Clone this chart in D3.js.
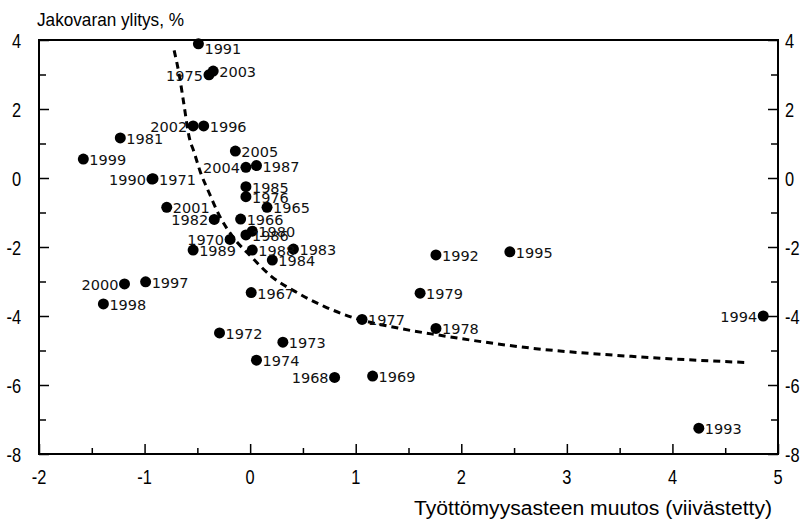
<!DOCTYPE html>
<html>
<head>
<meta charset="utf-8">
<script src="https://cdn.jsdelivr.net/npm/d3@7"></script>
<style>
  body { margin: 0; background: #fff; }
  svg { display: block; }
  .num { font-family: "Liberation Sans", Arial, sans-serif; font-size: 21px; fill: #000; }
  .ttl { font-family: "Liberation Sans", Arial, sans-serif; fill: #000; }
  .lbl { font-family: "DejaVu Sans", sans-serif; font-size: 14.5px; fill: #111; }
</style>
</head>
<body>
<div id="chart"></div>
<script>
// vuosi, työttömyysasteen muutos (viivästetty), jakovaran ylitys %
var years = [1991, 1975, 2003, 2002, 1996, 1981, 1999, 1990, 1971, 2005, 2004, 1987,
             1985, 1976, 1965, 2001, 1982, 1966, 1980, 1986, 1970, 1989, 1988, 1983,
             1984, 1997, 2000, 1998, 1967, 1972, 1973, 1974, 1968, 1969, 1977, 1992,
             1995, 1979, 1978, 1994, 1993];
var unempChange = [-0.49, -0.39, -0.35, -0.54, -0.44, -1.23, -1.58, -0.93, -0.92, -0.14, -0.04, 0.06,
                   -0.04, -0.04, 0.16, -0.79, -0.34, -0.09, 0.02, -0.04, -0.19, -0.54, 0.02, 0.41,
                   0.21, -0.99, -1.19, -1.39, 0.01, -0.29, 0.31, 0.06, 0.80, 1.16, 1.06, 1.76,
                   2.46, 1.61, 1.76, 4.86, 4.25];
var overshoot = [3.89, 2.99, 3.10, 1.51, 1.51, 1.16, 0.55, -0.03, -0.02, 0.78, 0.31, 0.36,
                 -0.25, -0.54, -0.85, -0.85, -1.20, -1.19, -1.54, -1.65, -1.78, -2.09, -2.09, -2.06,
                 -2.38, -3.01, -3.07, -3.65, -3.32, -4.49, -4.76, -5.28, -5.78, -5.74, -4.10, -2.23,
                 -2.14, -3.34, -4.36, -4.00, -7.25];
// vuodet, joiden nimi on pisteen vasemmalla puolella
var leftLabels = [1975, 2002, 1990, 2004, 1982, 1970, 2000, 1968, 1994];

// katkoviivakäyrä luettuna kuvasta
var curveX = [-0.72, -0.67, -0.63, -0.58, -0.53, -0.47, -0.39, -0.29, -0.17, 0.01,
              0.20, 0.42, 0.70, 0.99, 1.40, 1.78, 2.66, 3.61, 4.71];
var curveY = [3.70, 2.96, 2.19, 1.22, 0.74, 0.16, -0.42, -1.10, -1.68, -2.28,
              -2.85, -3.28, -3.72, -4.06, -4.35, -4.55, -4.93, -5.17, -5.35];

var xTicks = [-2, -1, 0, 1, 2, 3, 4, 5];
var yTicks = [4, 2, 0, -2, -4, -6, -8];
var yTitle = "Jakovaran ylitys, %";
var xTitle = "Työttömyysasteen muutos (viivästetty)";

var W = 811, H = 519;
var mLeft = 39, mRight = 778, mTop = 40, mBottom = 454;

var svg = d3.select("#chart").append("svg").attr("width", W).attr("height", H);

var x = d3.scaleLinear().domain([-2, 5]).range([mLeft, mRight]);
var y = d3.scaleLinear().domain([-8, 4]).range([mBottom, mTop]);

// akselit, tikit sisäänpäin
var gx = svg.append("g").attr("transform", "translate(0," + mBottom + ")");
gx.call(d3.axisTop(x).tickValues(d3.range(-2, 5.01, 0.5)).tickFormat(""));
gx.selectAll(".tick line").attr("y2", function(d){ return Number.isInteger(d) ? -10 : -6; });
var gyL = svg.append("g").attr("transform", "translate(" + mLeft + ",0)");
gyL.call(d3.axisRight(y).tickValues(d3.range(-8, 4.01, 1)).tickFormat(""));
gyL.selectAll(".tick line").attr("x2", function(d){ return d % 2 === 0 ? 10 : 7; });
var gyR = svg.append("g").attr("transform", "translate(" + mRight + ",0)");
gyR.call(d3.axisLeft(y).tickValues(d3.range(-8, 4.01, 1)).tickFormat(""));
gyR.selectAll(".tick line").attr("x2", function(d){ return d % 2 === 0 ? -10 : -7; });

svg.selectAll(".domain").remove();
svg.selectAll(".tick line").attr("stroke", "#000").attr("stroke-width", 1.5);

// kehys
svg.append("rect")
  .attr("x", mLeft).attr("y", mTop)
  .attr("width", mRight - mLeft).attr("height", mBottom - mTop)
  .attr("fill", "none").attr("stroke", "#000").attr("stroke-width", 2);

// tikkien numerot (kapeaa kirjasinta jäljitellen)
function narrow(sel, px, py, anchor){
  sel.attr("class", "num")
    .attr("text-anchor", anchor)
    .attr("transform", function(d){ return "translate(" + px(d) + "," + py(d) + ") scale(0.78,1)"; })
    .text(function(d){ return d; });
}
svg.selectAll(".xnum").data(xTicks).enter().append("text")
  .call(narrow, function(d){ return x(d); }, function(){ return mBottom + 30; }, "middle");
svg.selectAll(".ylnum").data(yTicks).enter().append("text")
  .call(narrow, function(){ return mLeft - 18; }, function(d){ return y(d) + 8; }, "end");
svg.selectAll(".yrnum").data(yTicks).enter().append("text")
  .call(narrow, function(){ return mRight + 7; }, function(d){ return y(d) + 8; }, "start");

svg.append("text").attr("class", "ttl")
  .attr("x", 37).attr("y", 26)
  .style("font-size", "19px")
  .attr("textLength", 147).attr("lengthAdjust", "spacingAndGlyphs")
  .text(yTitle);
svg.append("text").attr("class", "ttl")
  .attr("x", 414).attr("y", 515)
  .style("font-size", "20px")
  .attr("textLength", 358).attr("lengthAdjust", "spacingAndGlyphs")
  .text(xTitle);

// käyrä
var curveData = d3.zip(curveX, curveY);
svg.append("path")
  .datum(curveData)
  .attr("fill", "none")
  .attr("stroke", "#000")
  .attr("stroke-width", 3)
  .attr("stroke-dasharray", "7,5")
  .attr("d", d3.line()
      .x(function(d){ return x(d[0]); })
      .y(function(d){ return y(d[1]); })
      .curve(d3.curveMonotoneX));

// pisteet
var pts = years.map(function(yr, i){
  return { year: yr, ux: unempChange[i], ov: overshoot[i] };
});
svg.selectAll(".dot").data(pts).enter().append("circle")
  .attr("cx", function(d){ return x(d.ux); })
  .attr("cy", function(d){ return y(d.ov); })
  .attr("r", 5.5)
  .attr("fill", "#000");

svg.selectAll(".lbl").data(pts).enter().append("text")
  .attr("class", "lbl")
  .attr("x", function(d){
    return leftLabels.indexOf(d.year) >= 0 ? x(d.ux) - 6 : x(d.ux) + 6;
  })
  .attr("y", function(d){ return y(d.ov) + (d.year === 1991 ? 10 : 6); })
  .attr("text-anchor", function(d){ return leftLabels.indexOf(d.year) >= 0 ? "end" : "start"; })
  .text(function(d){ return d.year; });
</script>
</body>
</html>
